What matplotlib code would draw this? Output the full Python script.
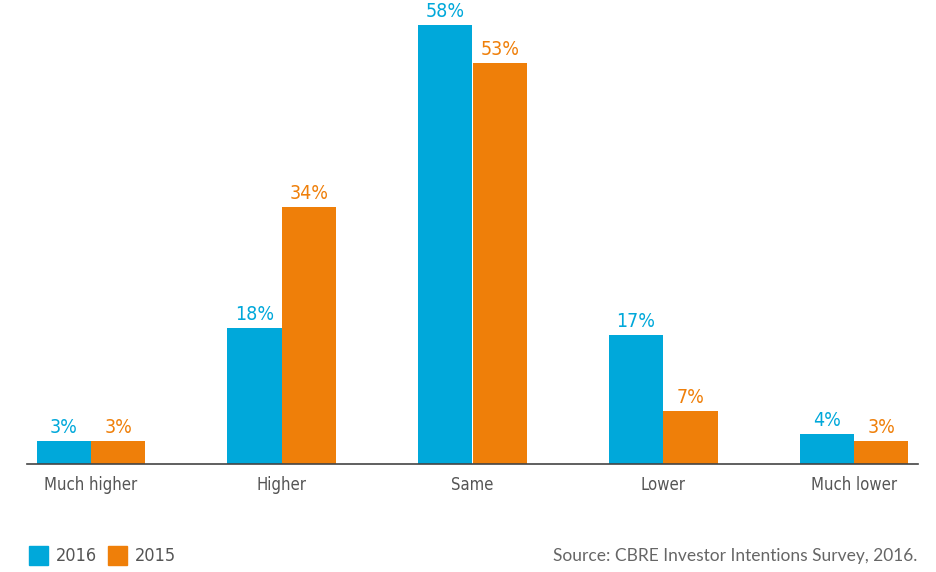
import matplotlib.pyplot as plt
import numpy as np
from matplotlib.patches import Rectangle

categories = ['Much higher', 'Higher', 'Same', 'Lower', 'Much lower']
values_2016 = [3, 18, 58, 17, 4]
values_2015 = [3, 34, 53, 7, 3]
series_labels = ['2016', '2015']
source = 'Source: CBRE Investor Intentions Survey, 2016.'

blue = '#00a8da'
orange = '#ef7f09'
narrow = dict(family='DejaVu Sans', stretch='condensed')

fig = plt.figure(figsize=(9.37, 5.72), dpi=100)
ax = fig.add_axes([27 / 937, 108 / 572, 891 / 937, 454 / 572])

x = np.arange(len(categories))
width = 0.285
bars16 = ax.bar(x - width / 2, values_2016, width, color=blue)
bars15 = ax.bar(x + width / 2, values_2015, width, color=orange)

for bars, vals, col in [(bars16, values_2016, blue), (bars15, values_2015, orange)]:
    for b, v in zip(bars, vals):
        ax.annotate('%d%%' % v, (b.get_x() + b.get_width() / 2, v),
                    xytext=(0, 3), textcoords='offset points',
                    ha='center', va='bottom', color=col,
                    fontsize=14, **narrow)

ax.set_xlim(-0.335, len(categories) - 1 + 0.335)
ax.set_ylim(0, 60)
for s in ['top', 'right', 'left']:
    ax.spines[s].set_visible(False)
ax.spines['bottom'].set_color('#444444')
ax.spines['bottom'].set_linewidth(1.2)
ax.set_yticks([])
ax.set_xticks(x)
ax.set_xticklabels(categories, fontsize=12, color='#555555', **narrow)
ax.tick_params(axis='x', length=0, pad=9)

# legend drawn by hand at the bottom left
for i, (lab, col) in enumerate(zip(series_labels, [blue, orange])):
    x0 = 29 + i * 79
    fig.patches.append(Rectangle((x0 / 937, 7 / 572), 19 / 937, 19 / 572,
                                 transform=fig.transFigure, color=col))
    fig.text((x0 + 27) / 937, 16 / 572, lab, fontsize=13, color='#555555',
             va='center', ha='left', **narrow)

fig.text(917 / 937, 16 / 572, source, fontsize=12.5, color='#666666',
         ha='right', va='center', family=['Lato', 'DejaVu Sans'])

plt.savefig('out.png', dpi=100)
